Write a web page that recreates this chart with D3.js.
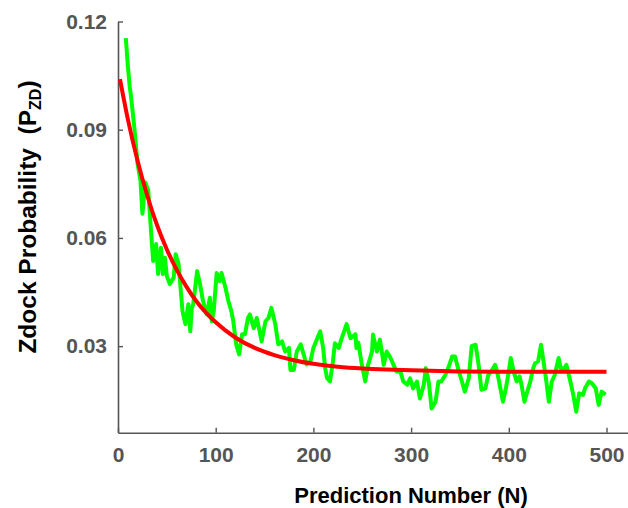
<!DOCTYPE html>
<html>
<head>
<meta charset="utf-8">
<script src="https://cdn.jsdelivr.net/npm/d3@7"></script>
<style>
    body { margin: 0; background: #fff; }
    svg { display: block; }
</style>
</head>
<body>
<div id="chart"></div>
<script>
//Datos
const probN = [8, 10, 12, 13, 15, 17, 20, 23, 25, 28, 31, 34, 36, 39, 41, 44, 46, 48, 50, 53,
    57, 59, 62, 64, 66, 69, 72, 74, 75.5, 77, 81, 84, 87, 91, 94, 96, 98, 101, 104, 106,
    110, 113, 116, 118, 121, 124, 127, 130, 133, 135, 139, 142, 145, 147, 151, 154, 157, 161, 164, 168,
    171, 175, 176.5, 180, 183, 187, 190, 193, 197, 200, 204, 207, 210, 212, 214, 217, 220, 222, 226, 229,
    234, 238, 243, 244, 246, 249, 253, 256, 260, 261, 265, 268, 270, 272, 275, 279, 282, 285, 289, 292,
    296, 299, 302, 306, 309, 313, 315, 318, 321, 325, 328, 331, 335, 338, 342, 345, 348, 352, 355, 359,
    362, 366, 369, 372, 376, 379, 382, 386, 388, 390, 394, 397, 400, 402, 405, 408, 411, 413, 416, 418,
    422, 425, 427, 430, 433, 435, 438, 441, 444, 447, 451, 453, 457, 459, 463, 466, 469, 472, 476, 478,
    482, 485, 489, 492, 495, 499];
const probValues = [0.1154, 0.1080, 0.1019, 0.1000, 0.0950, 0.0898, 0.0806, 0.0759, 0.0667, 0.0754,
    0.0731, 0.0611, 0.0536, 0.0583, 0.0500, 0.0573, 0.0500, 0.0545, 0.0494, 0.0472,
    0.0490, 0.0555, 0.0528, 0.0462, 0.0397, 0.0361, 0.0416, 0.0341, 0.0406, 0.0416,
    0.0508, 0.0472, 0.0425, 0.0388, 0.0434, 0.0369, 0.0397, 0.0503, 0.0480, 0.0503,
    0.0462, 0.0425, 0.0397, 0.0369, 0.0305, 0.0277, 0.0333, 0.0333, 0.0378, 0.0388,
    0.0350, 0.0378, 0.0341, 0.0313, 0.0369, 0.0378, 0.0406, 0.0361, 0.0305, 0.0313,
    0.0285, 0.0295, 0.0234, 0.0234, 0.0285, 0.0305, 0.0277, 0.0249, 0.0258, 0.0295,
    0.0322, 0.0341, 0.0295, 0.0239, 0.0211, 0.0202, 0.0258, 0.0308, 0.0295, 0.0322,
    0.0361, 0.0322, 0.0333, 0.0295, 0.0310, 0.0258, 0.0202, 0.0248, 0.0285, 0.0332,
    0.0285, 0.0318, 0.0285, 0.0248, 0.0285, 0.0267, 0.0248, 0.0230, 0.0230, 0.0202,
    0.0193, 0.0211, 0.0183, 0.0202, 0.0155, 0.0193, 0.0239, 0.0202, 0.0127, 0.0146,
    0.0202, 0.0202, 0.0220, 0.0239, 0.0271, 0.0271, 0.0239, 0.0202, 0.0174, 0.0211,
    0.0300, 0.0304, 0.0250, 0.0179, 0.0183, 0.0220, 0.0230, 0.0248, 0.0230, 0.0202,
    0.0146, 0.0183, 0.0230, 0.0267, 0.0230, 0.0202, 0.0216, 0.0193, 0.0146, 0.0165,
    0.0202, 0.0239, 0.0253, 0.0258, 0.0304, 0.0267, 0.0211, 0.0146, 0.0202, 0.0220,
    0.0267, 0.0239, 0.0239, 0.0248, 0.0202, 0.0165, 0.0118, 0.0169, 0.0165, 0.0183,
    0.0202, 0.0197, 0.0183, 0.0137, 0.0174, 0.0165];

//Curva de ajuste (roja)
const fitN = [2, 10, 20, 30, 40, 50, 60, 70, 80, 90, 100, 120, 140, 160, 180, 200, 225, 250, 275, 300, 350, 400, 450, 500];
const fitValues = [0.1040, 0.0930, 0.0814, 0.0717, 0.0635, 0.0568, 0.0512, 0.0465, 0.0425, 0.0393,
    0.0366, 0.0324, 0.0295, 0.0275, 0.0261, 0.0251, 0.0243, 0.0238, 0.0235, 0.0233, 0.0230, 0.0229, 0.0229, 0.0229];

const xTicks = [0, 100, 200, 300, 400, 500];
const yTicks = [0.03, 0.06, 0.09, 0.12];

const COLOR_DATA = '#00FF00',
    COLOR_FIT = '#FF0000',
    COLOR_AXIS = '#555555';

let width = 628,
    height = 508;

let svg = d3.select('#chart')
    .append('svg')
        .attr('width', width)
        .attr('height', height);

let x = d3.scaleLinear()
    .domain([0, 522])
    .range([118, 628]);

let y = d3.scaleLinear()
    .domain([0.006, 0.12])
    .range([432.7, 21.5]);

//Ejes
let xAxis = svg.append('g')
    .attr('transform', 'translate(0,' + y(0.006) + ')')
    .call(d3.axisBottom(x).tickValues(xTicks).tickSizeInner(-5).tickSizeOuter(0).tickPadding(14));

let yAxis = svg.append('g')
    .attr('transform', 'translate(' + x(0) + ',0)')
    .call(d3.axisLeft(y).tickValues(yTicks).tickFormat(d3.format('.2f')).tickSizeInner(-5).tickSizeOuter(0).tickPadding(11));

[xAxis, yAxis].forEach(function(g) {
    g.select('.domain').attr('stroke', COLOR_AXIS).attr('stroke-width', 1.6);
    g.selectAll('.tick line').attr('stroke', COLOR_AXIS).attr('stroke-width', 1.4);
    g.selectAll('.tick text')
        .attr('fill', COLOR_AXIS)
        .style('font-family', '"Liberation Sans", Arial, sans-serif')
        .style('font-weight', 'bold')
        .style('font-size', '21px');
});

//Línea de datos
let line = d3.line()
    .x(function(d) { return x(d[0]); })
    .y(function(d) { return y(d[1]); });

svg.append('path')
    .datum(d3.zip(probN, probValues))
    .attr('fill', 'none')
    .attr('stroke', COLOR_DATA)
    .attr('stroke-width', 4)
    .attr('stroke-linejoin', 'round')
    .attr('d', line);

//Ajuste
let fitLine = d3.line()
    .curve(d3.curveMonotoneX)
    .x(function(d) { return x(d[0]); })
    .y(function(d) { return y(d[1]); });

svg.append('path')
    .datum(d3.zip(fitN, fitValues))
    .attr('fill', 'none')
    .attr('stroke', COLOR_FIT)
    .attr('stroke-width', 4)
    .attr('d', fitLine);

//Títulos
svg.append('text')
    .attr('x', 411)
    .attr('y', 503)
    .attr('text-anchor', 'middle')
    .style('font-family', '"Liberation Sans", Arial, sans-serif')
    .style('font-weight', 'bold')
    .style('font-size', '22px')
    .text('Prediction Number (N)');

let yTitle = svg.append('text')
    .attr('transform', 'translate(36,217) rotate(-90)')
    .attr('text-anchor', 'middle')
    .style('font-family', '"Liberation Sans", Arial, sans-serif')
    .style('font-weight', 'bold')
    .style('font-size', '24.5px')
    .attr('xml:space', 'preserve');

yTitle.append('tspan').text('Zdock Probability  (P');
yTitle.append('tspan').attr('font-size', '16px').attr('dy', 5).text('ZD');
yTitle.append('tspan').attr('dy', -5).text(')');
</script>
</body>
</html>
